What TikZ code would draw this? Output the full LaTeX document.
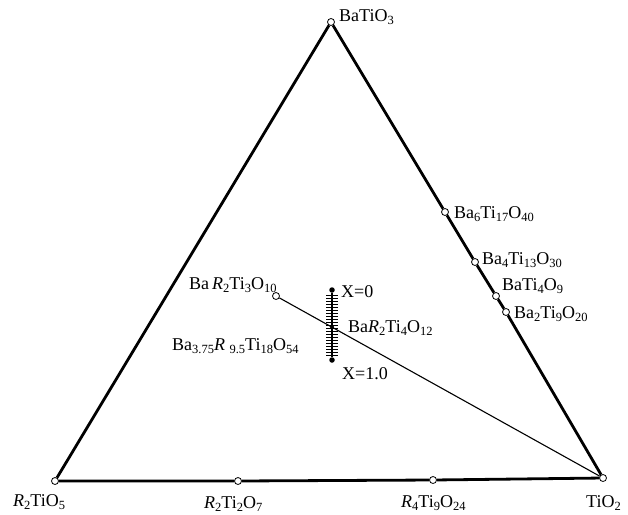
\documentclass[tikz,border=0pt]{standalone}
\usepackage{fontspec}
\setmainfont{Liberation Serif}
\newcommand{\sbs}[1]{\raisebox{-0.45ex}{\fontsize{12.5}{13}\selectfont #1}}
\newcommand{\Rit}{\textit{R}}
\begin{document}
\begin{tikzpicture}[
    x=1pt, y=-1pt,
    vtx/.style={
        circle, draw, fill=white, line width=0.8pt,
        minimum size=7pt, inner sep=0pt
    },
    pdot/.style={circle, fill=black, minimum size=5.5pt, inner sep=0pt},
    lbl/.style={font=\fontsize{18}{20}\selectfont, inner sep=0pt, anchor=west},
    side/.style={line width=2.8pt},
    tie/.style={line width=1.1pt},
]
\useasboundingbox (0,0) rectangle (628,514);

% corners (pixel coordinates, y downwards)
\node [vtx] (BT) at (331,22)  {};
\node [vtx] (RT) at (55,481)  {};
\node [vtx] (TO) at (603,478) {};

% BaTiO3 -- TiO2 side
\node [vtx] (B6) at (445,212) {};
\node [vtx] (B4) at (475,262) {};
\node [vtx] (B1) at (496,296) {};
\node [vtx] (B2) at (506,312) {};

% R2TiO5 -- TiO2 side
\node [vtx] (R22) at (238,481) {};
\node [vtx] (R49) at (433,480) {};

% inside
\node [vtx]  (BR3) at (276,296) {};
\node [pdot] (X0)  at (332,290) {};
\node [pdot] (X1)  at (332,360) {};
\node [pdot, minimum size=4pt] (BR4) at (332,327) {};

\draw[side] (BT) -- (RT);
\draw[side] (BT) -- (B6) -- (B4) -- (B1) -- (B2) -- (TO);
\draw[side] (RT) -- (R22) -- (R49) -- (TO);
\draw[tie] (BR3) -- (TO);
\draw[line width=1.6pt] (X0) -- (X1);
\foreach \y in {295,298,...,355}
    \draw[line width=1pt] (326,\y) -- (338,\y);

% labels
\node [lbl] (lBT)  at (339,17)  {BaTiO\sbs{3}};
\node [lbl] (lB6)  at (454,214) {Ba\sbs{6}Ti\sbs{17}O\sbs{40}};
\node [lbl] (lB4)  at (482,260) {Ba\sbs{4}Ti\sbs{13}O\sbs{30}};
\node [lbl] (lB1)  at (502,286) {BaTi\sbs{4}O\sbs{9}};
\node [lbl] (lB2)  at (514,314) {Ba\sbs{2}Ti\sbs{9}O\sbs{20}};
\node [lbl] (lBR3) at (189,285) {Ba\,\Rit\sbs{2}Ti\sbs{3}O\sbs{10}};
\node [lbl] (lX0)  at (341,292) {X=0};
\node [lbl] (lBR4) at (348,328) {Ba\Rit\sbs{2}Ti\sbs{4}O\sbs{12}};
\node [lbl] (lB37) at (172,346) {Ba\sbs{3.75}\Rit\ \sbs{9.5}Ti\sbs{18}O\sbs{54}};
\node [lbl] (lX1)  at (342,374) {X=1.0};
\node [lbl] (lRT)  at (13,502)  {\Rit\sbs{2}TiO\sbs{5}};
\node [lbl] (lR22) at (204,504) {\Rit\sbs{2}Ti\sbs{2}O\sbs{7}};
\node [lbl] (lR49) at (401,503) {\Rit\sbs{4}Ti\sbs{9}O\sbs{24}};
\node [lbl] (lTO)  at (586,503) {TiO\sbs{2}};

\end{tikzpicture}
\end{document}
